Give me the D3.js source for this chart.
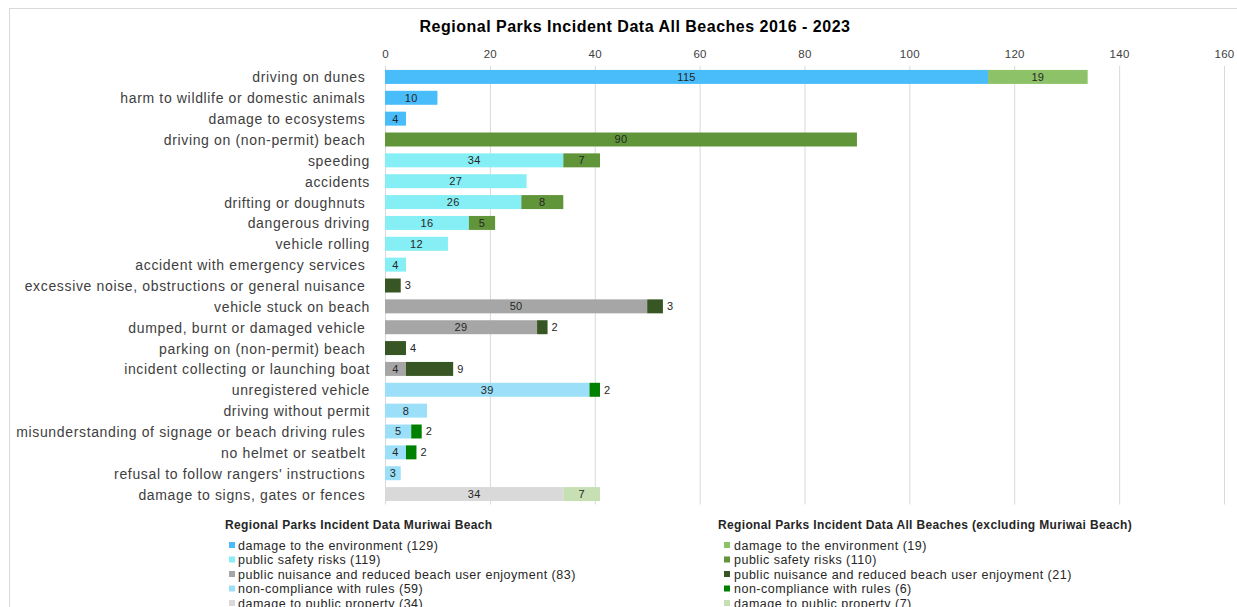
<!DOCTYPE html>
<html>
<head>
<meta charset="utf-8">
<script src="https://cdn.jsdelivr.net/npm/d3@7"></script>
<style>
  body { margin: 0; background: #fff; }
  svg { font-family: "Liberation Sans", Arial, sans-serif; }
  .cat text { white-space: pre; }
</style>
</head>
<body>
<div id="chart"></div>
<script>
const categories = [
  "driving on dunes ", "harm to wildlife or domestic animals ", "damage to ecosystems ",
  "driving on (non-permit) beach ", "speeding", "accidents", "drifting or doughnuts ",
  "dangerous driving", "vehicle rolling", "accident with emergency services ",
  "excessive noise, obstructions or general nuisance ", "vehicle stuck on beach",
  "dumped, burnt or damaged vehicle ", "parking on (non-permit) beach ",
  "incident collecting or launching boat", "unregistered vehicle", "driving without permit",
  "misunderstanding of signage or beach driving rules ", "no helmet or seatbelt ",
  "refusal to follow rangers' instructions ", "damage to signs, gates or fences "
];

// Muriwai Beach series
const muriwaiEnv      = [115, 10, 4, 0, 0, 0, 0, 0, 0, 0, 0, 0, 0, 0, 0, 0, 0, 0, 0, 0, 0];
const muriwaiSafety   = [0, 0, 0, 0, 34, 27, 26, 16, 12, 4, 0, 0, 0, 0, 0, 0, 0, 0, 0, 0, 0];
const muriwaiNuisance = [0, 0, 0, 0, 0, 0, 0, 0, 0, 0, 0, 50, 29, 0, 4, 0, 0, 0, 0, 0, 0];
const muriwaiRules    = [0, 0, 0, 0, 0, 0, 0, 0, 0, 0, 0, 0, 0, 0, 0, 39, 8, 5, 4, 3, 0];
const muriwaiProperty = [0, 0, 0, 0, 0, 0, 0, 0, 0, 0, 0, 0, 0, 0, 0, 0, 0, 0, 0, 0, 34];
// All beaches excluding Muriwai
const otherEnv      = [19, 0, 0, 0, 0, 0, 0, 0, 0, 0, 0, 0, 0, 0, 0, 0, 0, 0, 0, 0, 0];
const otherSafety   = [0, 0, 0, 90, 7, 0, 8, 5, 0, 0, 0, 0, 0, 0, 0, 0, 0, 0, 0, 0, 0];
const otherNuisance = [0, 0, 0, 0, 0, 0, 0, 0, 0, 0, 3, 3, 2, 4, 9, 0, 0, 0, 0, 0, 0];
const otherRules    = [0, 0, 0, 0, 0, 0, 0, 0, 0, 0, 0, 0, 0, 0, 0, 2, 0, 2, 2, 0, 0];
const otherProperty = [0, 0, 0, 0, 0, 0, 0, 0, 0, 0, 0, 0, 0, 0, 0, 0, 0, 0, 0, 0, 7];

const xTicks = [0, 20, 40, 60, 80, 100, 120, 140, 160];
const legendNames = ["damage to the environment", "public safety risks",
  "public nuisance and reduced beach user enjoyment", "non-compliance with rules",
  "damage to public property"];

const series = [
  {key: "m0", values: muriwaiEnv, color: "#48bdf9", group: 0},
  {key: "m1", values: muriwaiSafety, color: "#86eef5", group: 0},
  {key: "m2", values: muriwaiNuisance, color: "#a6a6a6", group: 0},
  {key: "m3", values: muriwaiRules, color: "#9cdff8", group: 0},
  {key: "m4", values: muriwaiProperty, color: "#d9d9d9", group: 0},
  {key: "a0", values: otherEnv, color: "#8dc269", group: 1},
  {key: "a1", values: otherSafety, color: "#60953a", group: 1},
  {key: "a2", values: otherNuisance, color: "#375623", group: 1, outside: true},
  {key: "a3", values: otherRules, color: "#008000", group: 1, outside: true},
  {key: "a4", values: otherProperty, color: "#c6e0b4", group: 1}
];

const W = 1237, H = 607;
const svg = d3.select("#chart").append("svg").attr("width", W).attr("height", H);

// chart frame
svg.append("rect").attr("x", 9.5).attr("y", 8.5).attr("width", W).attr("height", H)
  .attr("fill", "none").attr("stroke", "#d9d9d9");

const rows = categories.map((c, i) => {
  const r = {cat: c};
  series.forEach(s => r[s.key] = s.values[i]);
  return r;
});
const stacked = d3.stack().keys(series.map(s => s.key))(rows);

const x = d3.scaleLinear().domain([0, 160]).range([385, 1224]);
const y = d3.scaleBand().domain(categories).range([66.5, 504.5])
  .paddingInner(0.33).paddingOuter(0.165);

// title
svg.append("text").attr("x", 635).attr("y", 32).attr("text-anchor", "middle")
  .style("font-size", "16px").style("font-weight", "bold").style("letter-spacing", "0.5px")
  .attr("fill", "#000")
  .text("Regional Parks Incident Data All Beaches 2016 - 2023");

// grid + top axis
const gx = svg.append("g").attr("transform", "translate(0,66)")
  .call(d3.axisTop(x).tickValues(xTicks).tickSize(-(504.5 - 66)).tickPadding(8));
gx.select(".domain").remove();
gx.selectAll("line").attr("stroke", "#d9d9d9");
gx.selectAll("text").style("font-size", "11.5px").style("letter-spacing", "0.3px")
  .attr("fill", "#404040")
  .style("font-family", "'Liberation Sans', Arial, sans-serif");

// category labels
const gy = svg.append("g").attr("class", "cat").attr("transform", "translate(370,1)")
  .call(d3.axisLeft(y).tickSize(0).tickPadding(0));
gy.select(".domain").remove();
gy.selectAll("text").style("font-size", "14px").style("letter-spacing", "0.65px")
  .attr("fill", "#404040")
  .style("font-family", "'Liberation Sans', Arial, sans-serif");

// bars
stacked.forEach((layer, si) => {
  const s = series[si];
  const g = svg.append("g");
  g.selectAll("rect").data(layer.filter(d => d[1] - d[0] > 0)).join("rect")
    .attr("x", d => x(d[0]))
    .attr("y", d => y(d.data.cat))
    .attr("width", d => x(d[1]) - x(d[0]))
    .attr("height", y.bandwidth())
    .attr("fill", s.color);
  g.selectAll("text").data(layer.filter(d => d[1] - d[0] > 0)).join("text")
    .attr("x", d => s.outside ? x(d[1]) + 4 : (x(d[0]) + x(d[1])) / 2)
    .attr("y", d => y(d.data.cat) + y.bandwidth() / 2)
    .attr("dy", "0.36em")
    .attr("text-anchor", s.outside ? "start" : "middle")
    .style("font-size", "11px").style("letter-spacing", "0.3px").attr("fill", "#262626")
    .text(d => d[1] - d[0]);
});

// legends
const legendTitles = ["Regional Parks Incident Data Muriwai Beach",
  "Regional Parks Incident Data All Beaches (excluding Muriwai Beach)"];
const legendTitleX = [225, 718];
const legendBoxX = [229, 724];
const legendTextX = [238, 734];
[0, 1].forEach(gi => {
  const lg = svg.append("g");
  lg.append("text").attr("x", legendTitleX[gi]).attr("y", 529).style("font-size", "12px")
    .style("letter-spacing", "0.35px")
    .style("font-weight", "bold").attr("fill", "#262626").text(legendTitles[gi]);
  const items = series.filter(s => s.group === gi);
  items.forEach((s, i) => {
    const total = d3.sum(s.values);
    const cy = 545 + i * 14.5;
    lg.append("rect").attr("x", legendBoxX[gi]).attr("y", cy - 3).attr("width", 6).attr("height", 6)
      .attr("fill", s.color);
    lg.append("text").attr("x", legendTextX[gi]).attr("y", cy).attr("dy", "0.36em")
      .style("font-size", "12.5px").style("letter-spacing", "0.5px").attr("fill", "#262626")
      .text(`${legendNames[i]} (${total})`);
  });
});
</script>
</body>
</html>
